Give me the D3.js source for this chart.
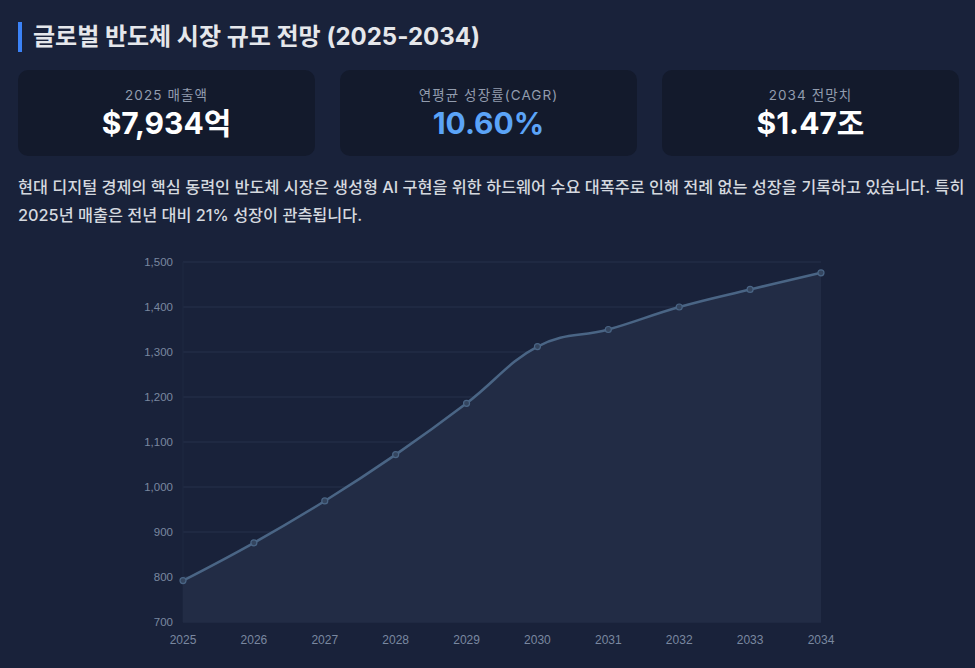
<!DOCTYPE html>
<html lang="ko">
<head>
<meta charset="utf-8">
<script src="https://cdn.jsdelivr.net/npm/d3@7"></script>
<style>
  html, body { margin: 0; padding: 0; }
  body {
    width: 975px; height: 668px; overflow: hidden; position: relative;
    background: #19223a;
    font-family: "Inter", "Noto Sans CJK KR", sans-serif;
    color: #e5e7eb;
  }
  .title {
    position: absolute; left: 18px; top: 22px; height: 30px;
    border-left: 4px solid #3b82f6; padding-left: 11px;
    font-size: 24px; font-weight: 700; line-height: 30px; color: #e5e7eb;
  }
  .cards {
    position: absolute; left: 18px; top: 70px; width: 941px;
    display: grid; grid-template-columns: repeat(3, 1fr); column-gap: 25px;
  }
  .card {
    height: 86px; background: #131a2c; border-radius: 10px;
    text-align: center; box-sizing: border-box; padding-top: 16px;
  }
  .card .label { font-size: 13.5px; color: #929cae; letter-spacing: 1.1px; line-height: 18px; }
  .card .value { font-size: 30px; font-weight: 700; line-height: 36px; color: #ffffff; margin-top: 1px; }
  .card .value.blue { color: #5ba4f8; }
  .desc {
    position: absolute; left: 18px; top: 173px; width: 950px;
    font-size: 16.3px; font-weight: 500; line-height: 28px; color: #d4d8df;
  }
  svg { position: absolute; left: 0; top: 0; }
</style>
</head>
<body>
<div class="title">글로벌 반도체 시장 규모 전망 (2025-2034)</div>
<div class="cards" id="cards"></div>
<div class="desc">현대 디지털 경제의 핵심 동력인 반도체 시장은 생성형 AI 구현을 위한 하드웨어 수요 대폭주로 인해 전례 없는 성장을 기록하고 있습니다. 특히 2025년 매출은 전년 대비 21% 성장이 관측됩니다.</div>
<svg id="chart" width="975" height="668"></svg>
<script>
// market size, billion USD
const years = [2025, 2026, 2027, 2028, 2029, 2030, 2031, 2032, 2033, 2034];
const marketSize = [792, 876, 969, 1072, 1186, 1312, 1350, 1400, 1439, 1476];
const yTicks = [700, 800, 900, 1000, 1100, 1200, 1300, 1400, 1500];

const cardLabels = ["2025 매출액", "연평균 성장률(CAGR)", "2034 전망치"];
const cardValues = ["$7,934억", "10.60%", "$1.47조"];

// cards
d3.select("#cards").selectAll(".card")
  .data(cardLabels)
  .join("div")
  .attr("class", "card")
  .each(function (d, i) {
    const c = d3.select(this);
    c.append("div").attr("class", "label").text(d);
    c.append("div").attr("class", i === 1 ? "value blue" : "value").text(cardValues[i]);
  });

// chart
const svg = d3.select("#chart");
const plotLeft = 183, plotRight = 821, plotTop = 262, plotBottom = 622;

const x = d3.scalePoint().domain(years).range([plotLeft, plotRight]);
const y = d3.scaleLinear().domain([700, 1500]).range([plotBottom, plotTop]);

// grid lines
svg.append("g")
  .selectAll("line")
  .data(yTicks)
  .join("line")
  .attr("x1", plotLeft)
  .attr("x2", plotRight)
  .attr("y1", d => y(d))
  .attr("y2", d => y(d))
  .attr("stroke", "#26304a")
  .attr("stroke-width", 1);

// left border
svg.append("line")
  .attr("x1", plotLeft).attr("x2", plotLeft)
  .attr("y1", plotTop).attr("y2", plotBottom)
  .attr("stroke", "#1f2940");

const data = years.map((yr, i) => ({ year: yr, value: marketSize[i] }));
const curve = d3.curveCardinal.tension(-0.2);

// area
svg.append("path")
  .datum(data)
  .attr("fill", "#222c45")
  .attr("d", d3.area()
    .x(d => x(d.year))
    .y0(plotBottom)
    .y1(d => y(d.value))
    .curve(curve));

// line
svg.append("path")
  .datum(data)
  .attr("fill", "none")
  .attr("stroke", "#4a6585")
  .attr("stroke-width", 2.5)
  .attr("d", d3.line()
    .x(d => x(d.year))
    .y(d => y(d.value))
    .curve(curve));

// points
svg.append("g")
  .selectAll("circle")
  .data(data)
  .join("circle")
  .attr("cx", d => x(d.year))
  .attr("cy", d => y(d.value))
  .attr("r", 3)
  .attr("fill", "#34455f")
  .attr("stroke", "#4a6585")
  .attr("stroke-width", 1.2);

// y axis labels
svg.append("g")
  .selectAll("text")
  .data(yTicks)
  .join("text")
  .attr("x", plotLeft - 10)
  .attr("y", d => y(d))
  .attr("dy", "0.35em")
  .attr("text-anchor", "end")
  .attr("font-family", "Liberation Sans, Arial, sans-serif")
  .attr("font-size", 11.5)
  .attr("fill", "#7a88a0")
  .text(d => d3.format(",")(d));

// x axis labels
svg.append("g")
  .selectAll("text")
  .data(years)
  .join("text")
  .attr("x", d => x(d))
  .attr("y", plotBottom + 22)
  .attr("text-anchor", "middle")
  .attr("font-family", "Liberation Sans, Arial, sans-serif")
  .attr("font-size", 12)
  .attr("fill", "#7a88a0")
  .text(d => d);
</script>
</body>
</html>
